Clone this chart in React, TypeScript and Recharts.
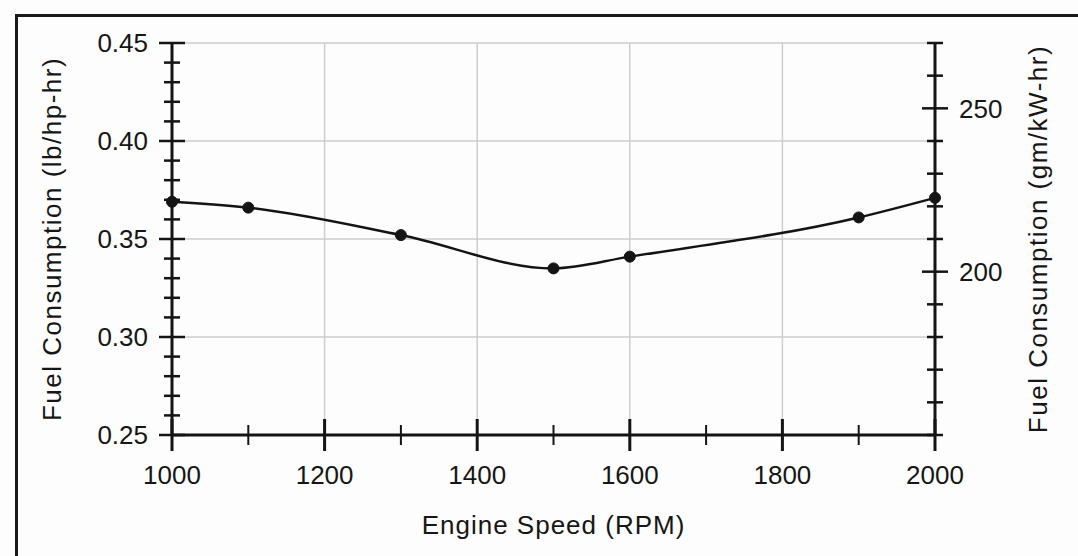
import React from 'react';
import { LineChart, Line, XAxis, YAxis, CartesianGrid, Label } from 'recharts';

// measured points
const rpm = [1000, 1100, 1300, 1500, 1600, 1900, 2000];
const fuelLb = [0.369, 0.366, 0.352, 0.335, 0.341, 0.361, 0.371];

const xTicks = [1000, 1100, 1200, 1300, 1400, 1500, 1600, 1700, 1800, 1900, 2000];
const xLabels = [1000, 1200, 1400, 1600, 1800, 2000];

const leftTicks = [
  0.25, 0.26, 0.27, 0.28, 0.29, 0.3, 0.31, 0.32, 0.33, 0.34, 0.35,
  0.36, 0.37, 0.38, 0.39, 0.4, 0.41, 0.42, 0.43, 0.44, 0.45,
];
const leftLabels = [0.25, 0.3, 0.35, 0.4, 0.45];

const rightTicks = [150, 160, 170, 180, 190, 200, 210, 220, 230, 240, 250, 260, 270];
const rightLabels = [200, 250];

const gridX = [1200, 1400, 1600, 1800];
const gridY = [0.3, 0.35, 0.4, 0.45];

const data = rpm.map((r, i) => ({ rpm: r, fuel: fuelLb[i] }));

const FONT = '"Liberation Sans", Arial, sans-serif';
const INK = '#141414';
const TXT = '#161616';
const MARGIN = 24;

const isIn = (list: number[], v: number) => list.some((l) => Math.abs(l - v) < 1e-6);

const LeftTick = (props: any) => {
  const { x, y, payload } = props;
  const major = isIn(leftLabels, payload.value);
  const ax = x + MARGIN;
  const len = major ? 13 : 8;
  return (
    <g>
      <line x1={ax - len} x2={ax + len} y1={y} y2={y} stroke={INK} strokeWidth={2.5} />
      {major && (
        <text x={x} y={y} dy="0.36em" textAnchor="end" fontSize={26} fontFamily={FONT} fill={TXT}>
          {payload.value.toFixed(2)}
        </text>
      )}
    </g>
  );
};

const RightTick = (props: any) => {
  const { x, y, payload } = props;
  const major = isIn(rightLabels, payload.value);
  const ax = x - MARGIN;
  const len = major ? 13 : 8;
  return (
    <g>
      <line x1={ax - len} x2={ax + len} y1={y} y2={y} stroke={INK} strokeWidth={2.5} />
      {major && (
        <text x={x} y={y} dy="0.36em" textAnchor="start" fontSize={26} fontFamily={FONT} fill={TXT}>
          {payload.value}
        </text>
      )}
    </g>
  );
};

const BottomTick = (props: any) => {
  const { x, y, payload } = props;
  const major = isIn(xLabels, payload.value);
  const ay = y - 28;
  const len = major ? 16 : 10;
  return (
    <g>
      <line x1={x} x2={x} y1={ay - len} y2={ay + len} stroke={INK} strokeWidth={major ? 3 : 2} />
      {major && (
        <text x={x} y={y} dy="0.8em" textAnchor="middle" fontSize={26} fontFamily={FONT} fill={TXT}>
          {payload.value}
        </text>
      )}
    </g>
  );
};

export default function App() {
  return (
    <div
      style={{
        position: 'fixed',
        left: 0,
        top: 0,
        width: 1078,
        height: 556,
        overflow: 'hidden',
        background: '#fdfdfd',
      }}
    >
      <div
        style={{
          position: 'absolute',
          left: 15,
          top: 14,
          width: 1100,
          height: 600,
          borderLeft: '3px solid #1a1a1a',
          borderTop: '3px solid #1a1a1a',
        }}
      />
      <div style={{ position: 'absolute', left: 0, top: 0 }}>
        <LineChart width={1078} height={556} data={data} margin={{ top: 43, right: 0, left: 0, bottom: 0 }}>
          <CartesianGrid
            yAxisId="left"
            stroke="#cdcdcd"
            strokeWidth={1.5}
            horizontalValues={gridY}
            verticalValues={gridX}
          />
          <XAxis
            dataKey="rpm"
            type="number"
            domain={[1000, 2000]}
            ticks={xTicks}
            interval={0}
            height={121}
            tickSize={0}
            tickMargin={28}
            tick={<BottomTick />}
            axisLine={{ stroke: INK, strokeWidth: 3 }}
            tickLine={false}
          >
            <Label
              value="Engine Speed (RPM)"
              position="insideBottom"
              offset={22}
              style={{ fontSize: 26, fontFamily: FONT, fill: TXT, letterSpacing: 1 }}
            />
          </XAxis>
          <YAxis
            yAxisId="left"
            type="number"
            domain={[0.25, 0.45]}
            ticks={leftTicks}
            interval={0}
            width={172}
            tickSize={0}
            tickMargin={MARGIN}
            tick={<LeftTick />}
            axisLine={{ stroke: INK, strokeWidth: 3 }}
            tickLine={false}
            allowDataOverflow
          >
            <Label
              value="Fuel Consumption (lb/hp-hr)"
              angle={-90}
              position="insideLeft"
              offset={52}
              textAnchor="middle"
              style={{ fontSize: 26, fontFamily: FONT, fill: TXT, textAnchor: 'middle', letterSpacing: 1.5 }}
            />
          </YAxis>
          <YAxis
            yAxisId="right"
            orientation="right"
            type="number"
            domain={[150, 270]}
            ticks={rightTicks}
            interval={0}
            width={143}
            tickSize={0}
            tickMargin={MARGIN}
            tick={<RightTick />}
            axisLine={{ stroke: INK, strokeWidth: 3 }}
            tickLine={false}
            allowDataOverflow
          >
            <Label
              value="Fuel Consumption (gm/kW-hr)"
              angle={-90}
              position="insideRight"
              offset={40}
              textAnchor="middle"
              style={{ fontSize: 26, fontFamily: FONT, fill: TXT, textAnchor: 'middle', letterSpacing: 1.5 }}
            />
          </YAxis>
          <Line
            yAxisId="left"
            dataKey="fuel"
            type="monotone"
            stroke={INK}
            strokeWidth={2.5}
            dot={{ r: 5.5, fill: INK, stroke: INK, strokeWidth: 1 }}
            isAnimationActive={false}
          />
        </LineChart>
      </div>
    </div>
  );
}
